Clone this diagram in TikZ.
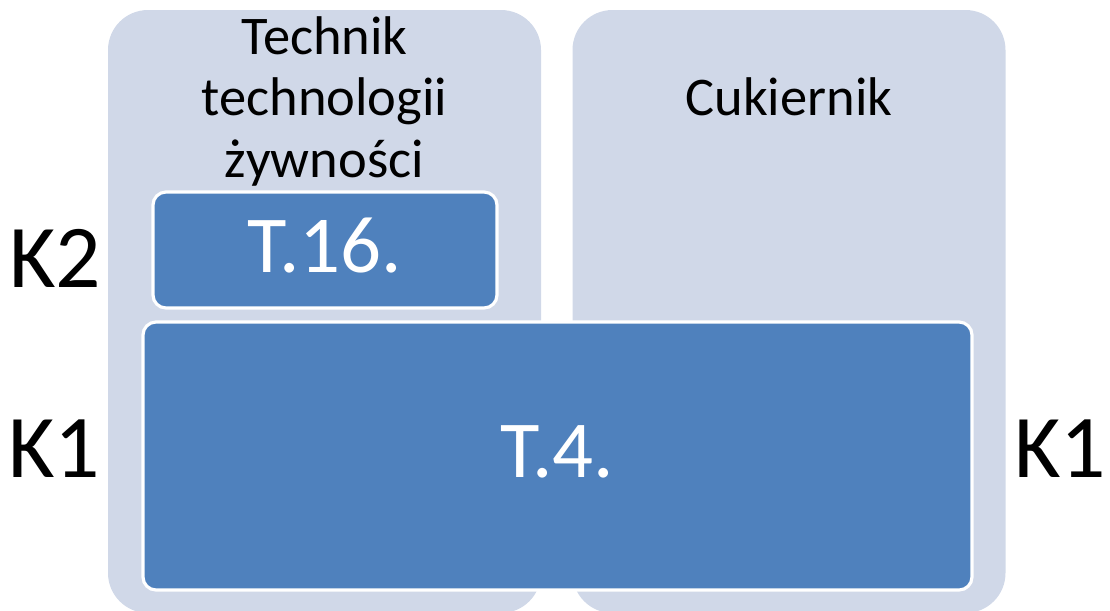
\documentclass[tikz,border=0pt]{standalone}
\usepackage{fontspec}
\setmainfont{Carlito}
\definecolor{panelgrey}{HTML}{D0D8E8}
\definecolor{levelblue}{HTML}{4F81BD}
\begin{document}
\begin{tikzpicture}[x=0.02cm,y=-0.02cm,
  panel/.style={rectangle,fill=panelgrey,draw=none,rounded corners=0.8cm,
    minimum width=433*0.02cm,minimum height=603*0.02cm,inner sep=0pt},
  level/.style={rectangle,fill=levelblue,draw=white,line width=1.8pt,
    rounded corners=0.26cm,inner sep=0pt},
  leveltext/.style={text=white,font=\fontsize{46}{50}\selectfont},
  head/.style={font=\fontsize{31}{35}\selectfont,align=center},
  klabel/.style={font=\fontsize{51}{56}\selectfont,anchor=base}]
  \useasboundingbox (0,0) rectangle (1110,610);
  % two occupation columns
  \node[panel] (pleft) at (324.5,311.5) {};
  \node[panel] (pright) at (789,311.5) {};
  % column headings (anchored on the baseline of the last line)
  \node[head,anchor=base] (hleft) at (324.5,177) {Technik\\technologii\\żywności};
  \node[head,anchor=base] (hright) at (789,115) {Cukiernik};
  % qualification blocks
  \node[level,minimum width=344*0.02cm,minimum height=116*0.02cm] (t16) at (325,250) {};
  \node[leveltext,anchor=base] (t16text) at (t16.center |- 0,272) {T.16.};
  \node[level,minimum width=829*0.02cm,minimum height=268*0.02cm] (t4) at (557.5,456) {};
  \node[leveltext,anchor=base] (t4text) at (t4.center |- 0,477) {T.4.};
  % level labels
  \node[klabel] (k2) at (55,287) {K2};
  \node[klabel] (k1l) at (54,477) {K1};
  \node[klabel] (k1r) at (1060,477) {K1};
\end{tikzpicture}
\end{document}
